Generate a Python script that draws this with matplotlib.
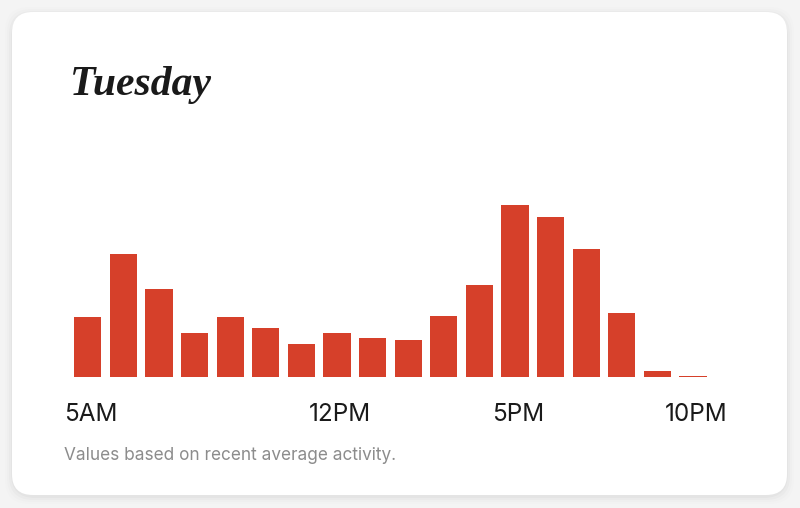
import matplotlib
matplotlib.use("Agg")
import matplotlib.pyplot as plt
from matplotlib.patches import FancyBboxPatch

# hourly activity, 5AM .. 10PM
hours = ["5AM", "6AM", "7AM", "8AM", "9AM", "10AM", "11AM", "12PM", "1PM",
         "2PM", "3PM", "4PM", "5PM", "6PM", "7PM", "8PM", "9PM", "10PM"]
activity = [60, 123, 88, 44, 60, 49, 33, 44, 39, 37, 61, 92, 172, 160, 128, 64, 6, 1]
shown_labels = ["5AM", "12PM", "5PM", "10PM"]

title = "Tuesday"
note = "Values based on recent average activity."

W, H = 800, 508
fig = plt.figure(figsize=(W / 100, H / 100), dpi=100)
fig.patch.set_facecolor("#f4f4f4")

def px(x0, y0, w, h):
    # pixel box (top-left origin) -> figure fraction
    return [x0 / W, 1 - (y0 + h) / H, w / W, h / H]

# soft shadow + card
for i, a in enumerate([0.025, 0.018, 0.012, 0.008]):
    g = 1 + i * 2
    b = px(12 - g, 12 - g + 2, 775 + 2 * g, 483 + 2 * g)
    fig.patches.append(FancyBboxPatch((b[0], b[1]), b[2], b[3],
                                      boxstyle="round,pad=0,rounding_size=0.03",
                                      transform=fig.transFigure, facecolor="black",
                                      edgecolor="none", alpha=a, zorder=0,
                                      mutation_aspect=W / H))
b = px(12, 12, 775, 483)
fig.patches.append(FancyBboxPatch((b[0], b[1]), b[2], b[3],
                                  boxstyle="round,pad=0,rounding_size=0.026",
                                  transform=fig.transFigure, facecolor="white",
                                  edgecolor="none", zorder=1, mutation_aspect=W / H))

ax = fig.add_axes(px(70, 376.7 - 180, 640.8, 180))
ax.set_zorder(3)
ax.set_facecolor("none")
x = list(range(len(hours)))
ax.bar(x, activity, width=0.76, color="#d6402a", edgecolor="none")
ax.set_xlim(-0.5, len(hours) - 0.5)
ax.set_ylim(0, 180)

ticks = [hours.index(h) + 0.08 for h in shown_labels]
ax.set_xticks(ticks)
ax.set_xticklabels(shown_labels, fontfamily="Inter", fontsize=17.5, color="#1a1a1a")
ax.tick_params(axis="x", length=0, pad=19)
ax.set_yticks([])
for s in ax.spines.values():
    s.set_visible(False)

fig.text(70 / W, 1 - 95 / H, title, fontfamily="Liberation Serif", fontweight="bold",
         fontstyle="italic", fontsize=30, color="#1a1a1a", va="baseline", ha="left",
         zorder=3)
fig.text(64 / W, 1 - 459.5 / H, note, fontfamily="Inter", fontsize=12.4,
         color="#8c8c8c", va="baseline", ha="left", zorder=3)

fig.savefig("out.png", dpi=100, facecolor=fig.get_facecolor())
